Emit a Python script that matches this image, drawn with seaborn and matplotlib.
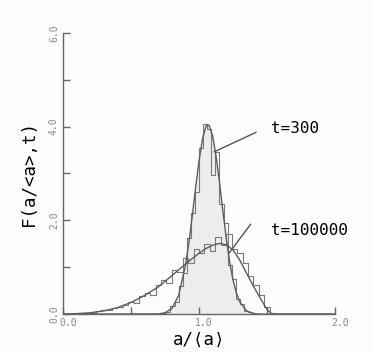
import numpy as np
import pandas as pd
import seaborn as sns
import matplotlib.pyplot as plt
from matplotlib.transforms import ScaledTranslation

# ---- data ----
# smooth curve, t=300
t300_x = [0.00, 0.70, 0.75, 0.80, 0.85, 0.90, 0.925, 0.95, 0.975, 1.00, 1.025, 1.05,
          1.065, 1.075, 1.10, 1.125, 1.15, 1.175, 1.20, 1.225, 1.25, 1.275, 1.30,
          1.35, 1.40, 1.45, 2.00]
t300_y = [0.00, 0.005, 0.03, 0.12, 0.40, 1.04, 1.52, 2.09, 2.70, 3.27, 3.73, 4.00,
          4.04, 4.02, 3.80, 3.37, 2.82, 2.21, 1.62, 1.12, 0.73, 0.45, 0.26,
          0.07, 0.015, 0.00, 0.00]
# histogram, t=300 (bins of width 0.03 starting at 0.70)
t300_edges = [round(0.70 + 0.03 * i, 3) for i in range(26)]
t300_hist = [0.01, 0.03, 0.05, 0.17, 0.25, 0.60, 0.88, 1.62, 2.15, 2.60, 3.55, 4.05,
             3.95, 2.97, 3.45, 2.35, 1.95, 1.05, 0.75, 0.32, 0.22, 0.06, 0.05, 0.0, 0.0]

# smooth curve, t=100000
t1e5_x = [0.00, 0.10, 0.20, 0.30, 0.40, 0.50, 0.60, 0.70, 0.80, 0.90, 1.00, 1.05,
          1.10, 1.15, 1.20, 1.25, 1.30, 1.35, 1.40, 1.45, 1.50, 1.53, 1.55, 2.00]
t1e5_y = [0.00, 0.01, 0.03, 0.07, 0.14, 0.25, 0.40, 0.58, 0.82, 1.07, 1.30, 1.40,
          1.47, 1.51, 1.48, 1.37, 1.15, 0.87, 0.60, 0.34, 0.10, 0.02, 0.00, 0.00]
# histogram, t=100000 (bins of width 0.04 starting at 0)
t1e5_edges = [round(0.04 * i, 3) for i in range(40)]
t1e5_hist = [0.0, 0.0, 0.02, 0.02, 0.03, 0.03, 0.06, 0.08, 0.09, 0.14, 0.15, 0.19,
             0.27, 0.24, 0.38, 0.45, 0.40, 0.62, 0.72, 0.66, 0.95, 0.90, 1.20, 1.10,
             1.38, 1.30, 1.50, 1.35, 1.65, 1.48, 1.72, 1.40, 1.30, 1.10, 0.82, 0.62,
             0.40, 0.15, 0.03]

x_ticks = [0.0, 1.0, 2.0]
x_ticklabels = ["0.0", "1.0", "2.0"]
y_ticks = [0.0, 2.0, 4.0, 6.0]
y_ticklabels = ["0.0", "2.0", "4.0", "6.0"]

# ---- plot ----
sns.set_style("ticks")
plt.rcParams['font.family'] = ['DejaVu Sans Mono', 'DejaVu Sans', 'Noto Sans CJK JP']

fig = plt.figure(figsize=(3.71, 3.53), dpi=100, facecolor='#fcfcfa')
ax = fig.add_axes([0.170, 0.110, 0.733, 0.797])
ax.set_facecolor('#fcfcfa')

line_c = '#5c5c5c'
hist_c = '#7a7a7a'

# faint scan shading under the sharp peak
ax.fill_between(t300_x, t300_y, color='#ededeb', lw=0, zorder=0)

e300 = np.array(t300_edges)
e1e5 = np.array(t1e5_edges)
df300 = pd.DataFrame({'x': (e300[:-1] + e300[1:]) / 2, 'w': t300_hist})
df1e5 = pd.DataFrame({'x': (e1e5[:-1] + e1e5[1:]) / 2, 'w': t1e5_hist})

sns.histplot(data=df300, x='x', weights='w', bins=t300_edges, element='step',
             fill=False, color=hist_c, linewidth=0.8, ax=ax)
sns.histplot(data=df1e5, x='x', weights='w', bins=t1e5_edges, element='step',
             fill=False, color=hist_c, linewidth=0.8, ax=ax)

sns.lineplot(x=t300_x, y=t300_y, color=line_c, linewidth=1.0, ax=ax, sort=False)
sns.lineplot(x=t1e5_x, y=t1e5_y, color=line_c, linewidth=1.0, ax=ax, sort=False)

# annotations
ax.plot([1.11, 1.42], [3.46, 3.88], color='#555555', lw=1.0)
ax.text(1.53, 3.97, "t=300", fontsize=11.5, va='center', ha='left', color='black')
ax.plot([1.22, 1.38], [1.30, 1.92], color='#555555', lw=1.0)
ax.text(1.53, 1.79, "t=100000", fontsize=11.5, va='center', ha='left', color='black')

ax.set_xlim(0, 2.0)
ax.set_ylim(0, 6.0)
sns.despine(ax=ax)
for s in ['left', 'bottom']:
    ax.spines[s].set_color('#666666')
    ax.spines[s].set_linewidth(1.0)

ax.set_xticks(x_ticks)
ax.set_xticklabels(x_ticklabels)
ax.set_yticks(y_ticks)
ax.set_yticklabels(y_ticklabels, rotation=90, va='center')
ax.set_xticks([0.5, 1.5], minor=True)
ax.set_yticks([1.0, 3.0, 5.0], minor=True)
ax.tick_params(axis='both', which='both', direction='in', length=5, width=1.0,
               color='#666666', labelsize=7, labelcolor='#888888', pad=3)
for lab in ax.get_xticklabels():
    lab.set_transform(lab.get_transform() + ScaledTranslation(5/100, 0, fig.dpi_scale_trans))

ax.set_xlabel("a/⟨a⟩", fontsize=12.5, color='black', labelpad=2)
ax.set_ylabel("F(a/<a>,t)", fontsize=12.5, color='black', labelpad=8)

fig.savefig("out.png", dpi=100, facecolor=fig.get_facecolor())
